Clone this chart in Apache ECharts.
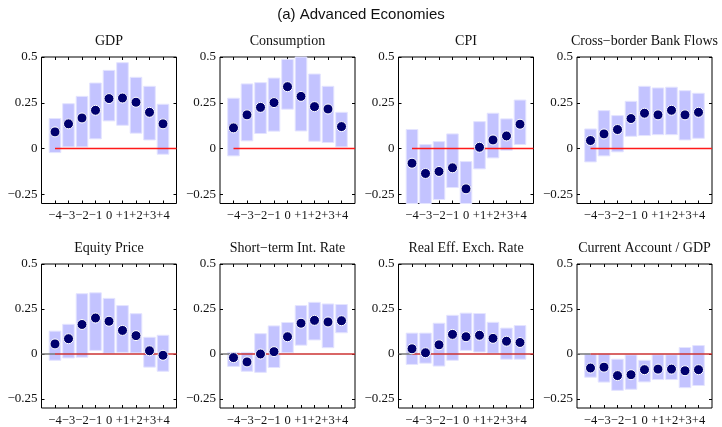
<!DOCTYPE html>
<html>
<head>
<meta charset="utf-8">
<script src="https://cdn.jsdelivr.net/npm/echarts@6/dist/echarts.min.js"></script>
<style>
html,body{margin:0;padding:0;background:#fff;}
#chart{width:722px;height:427px;}
</style>
</head>
<body>
<div id="chart"></div>
<script>
// ---- data ----
const mainTitle = '(a) Advanced Economies';
const lags = [-4, -3, -2, -1, 0, 1, 2, 3, 4];
const lagLabels = ['−4', '−3', '−2', '−1', '0', '+1', '+2', '+3', '+4'];
const yTickValues = [-0.25, 0, 0.25, 0.5];
const yTickLabels = ['−0.25', '0', '0.25', '0.5'];
const panelTitles = ['GDP', 'Consumption', 'CPI', 'Cross−border Bank Flows',
  'Equity Price', 'Short−term Int. Rate', 'Real Eff. Exch. Rate', 'Current Account / GDP'];

const gdpEst = [0.091, 0.135, 0.167, 0.209, 0.273, 0.276, 0.253, 0.198, 0.135];
const gdpLo  = [-0.022, 0.009, 0.009, 0.053, 0.151, 0.127, 0.084, 0.047, -0.031];
const gdpHi  = [0.164, 0.245, 0.285, 0.358, 0.427, 0.469, 0.389, 0.340, 0.242];

const conEst = [0.113, 0.184, 0.225, 0.251, 0.338, 0.285, 0.229, 0.216, 0.120];
const conLo  = [-0.040, 0.042, 0.082, 0.095, 0.215, 0.096, 0.040, 0.033, 0.009];
const conHi  = [0.275, 0.353, 0.360, 0.385, 0.487, 0.520, 0.407, 0.340, 0.198];

const cpiEst = [-0.080, -0.136, -0.125, -0.105, -0.220, 0.007, 0.047, 0.069, 0.133];
const cpiLo  = [-0.330, -0.330, -0.278, -0.213, -0.340, -0.111, -0.051, -0.009, 0.022];
const cpiHi  = [0.104, 0.022, 0.038, 0.080, -0.071, 0.147, 0.193, 0.162, 0.265];

const cbfEst = [0.044, 0.080, 0.104, 0.164, 0.193, 0.184, 0.209, 0.184, 0.198];
const cbfLo  = [-0.073, -0.040, -0.018, 0.067, 0.071, 0.076, 0.076, 0.047, 0.056];
const cbfHi  = [0.107, 0.207, 0.180, 0.258, 0.340, 0.331, 0.335, 0.316, 0.302];

const eqEst = [0.056, 0.085, 0.164, 0.200, 0.182, 0.131, 0.102, 0.018, -0.007];
const eqLo  = [-0.035, -0.022, -0.018, 0.020, 0.004, 0.009, 0.006, -0.073, -0.096];
const eqHi  = [0.127, 0.165, 0.335, 0.340, 0.309, 0.269, 0.224, 0.093, 0.104];

const strEst = [-0.020, -0.044, 0.000, 0.013, 0.096, 0.171, 0.187, 0.178, 0.185];
const strLo  = [-0.069, -0.096, -0.102, -0.075, 0.007, 0.049, 0.078, 0.035, 0.118];
const strHi  = [0.009, 0.009, 0.113, 0.156, 0.175, 0.269, 0.287, 0.278, 0.275];

const reerEst = [0.029, 0.007, 0.051, 0.109, 0.096, 0.104, 0.087, 0.071, 0.064];
const reerLo  = [-0.058, -0.051, -0.067, -0.035, 0.020, 0.011, 0.004, -0.029, -0.029];
const reerHi  = [0.116, 0.116, 0.171, 0.215, 0.227, 0.225, 0.176, 0.144, 0.158];

const caEst = [-0.078, -0.073, -0.120, -0.115, -0.087, -0.084, -0.084, -0.093, -0.087];
const caLo  = [-0.129, -0.156, -0.202, -0.196, -0.155, -0.142, -0.142, -0.187, -0.175];
const caHi  = [0.000, 0.000, -0.029, -0.005, -0.035, -0.004, -0.004, 0.036, 0.047];

const panels = [
  [gdpEst, gdpLo, gdpHi], [conEst, conLo, conHi], [cpiEst, cpiLo, cpiHi], [cbfEst, cbfLo, cbfHi],
  [eqEst, eqLo, eqHi], [strEst, strLo, strHi], [reerEst, reerLo, reerHi], [caEst, caLo, caHi]
];

// ---- layout / style ----
const lefts = [41.5, 220, 398.5, 577];
const gridW = 135;
const tops = [57, 264];
const gridH = 146.5;
const serif = '"Liberation Serif", "DejaVu Serif", serif';
const barColor = '#c3c3ff';
const dotColor = '#00006e';

const grids = [], xAxes = [], yAxes = [], series = [], graphics = [];
graphics.push({type:'text', x:361, y:15, style:{text:mainTitle, font:'15px "Liberation Sans", Arial, sans-serif', fill:'#111', align:'center', verticalAlign:'middle'}});

const tickStyle = {color:'#000', width:1};
panels.forEach((p, i) => {
  const row = Math.floor(i / 4), col = i % 4;
  const left = lefts[col], top = tops[row];
  grids.push({left: left, top: top, width: gridW, height: gridH, show: true, borderColor: '#000', borderWidth: 1, backgroundColor: 'transparent'});
  graphics.push({type:'text', x: left + gridW/2, y: top - 16, style:{text: panelTitles[i], font:'14px ' + serif, fill:'#111', align:'center', verticalAlign:'middle'}});
  // bottom x axis: ticks + labels (labels drawn through a lag-specific category-free formatter)
  xAxes.push({type:'value', gridIndex:i, min:-5, max:5, position:'bottom',
    axisLine:{show:false, onZero:false}, splitLine:{show:false},
    axisTick:{show:true, inside:true, length:3, customValues: lags, lineStyle: tickStyle},
    axisLabel:{show:true, customValues: lags, margin:6, fontSize:12.5, fontFamily: serif, color:'#111',
      showMinLabel:true, showMaxLabel:true, hideOverlap:false,
      formatter: v => { const k = lags.indexOf(Math.round(v)); return k >= 0 ? lagLabels[k] : ''; }}
  });
  xAxes.push({type:'value', gridIndex:i, min:-5, max:5, position:'top',
    axisLine:{show:false, onZero:false}, splitLine:{show:false}, axisLabel:{show:false},
    axisTick:{show:true, inside:true, length:3, customValues: lags, lineStyle: tickStyle}
  });
  yAxes.push({type:'value', gridIndex:i, min:-0.3, max:0.5, position:'left',
    axisLine:{show:false, onZero:false}, splitLine:{show:false},
    axisTick:{show:true, inside:true, length:3, customValues: yTickValues, lineStyle: tickStyle},
    axisLabel:{show:true, customValues: yTickValues, margin:4, fontSize:13, fontFamily: serif, color:'#111',
      showMinLabel:true, showMaxLabel:true,
      formatter: v => { const k = yTickValues.findIndex(t => Math.abs(t - v) < 1e-6); return k >= 0 ? yTickLabels[k] : ''; }}
  });
  yAxes.push({type:'value', gridIndex:i, min:-0.3, max:0.5, position:'right',
    axisLine:{show:false, onZero:false}, splitLine:{show:false}, axisLabel:{show:false},
    axisTick:{show:true, inside:true, length:3, customValues: yTickValues, lineStyle: tickStyle}
  });
  const xi = i * 2, yi = i * 2;
  const [est, lo, hi] = p;
  series.push({type:'custom', xAxisIndex: xi, yAxisIndex: yi, z: 1,
    data: lags.map((x, k) => [x, lo[k], hi[k]]),
    renderItem: (params, api) => {
      const x = api.value(0), l = api.value(1), h = api.value(2);
      const p1 = api.coord([x - 0.43, h]);
      const p2 = api.coord([x + 0.43, l]);
      const rect = echarts.graphic.clipRectByRect(
        {x: p1[0], y: p1[1], width: p2[0] - p1[0], height: p2[1] - p1[1]},
        {x: params.coordSys.x, y: params.coordSys.y, width: params.coordSys.width, height: params.coordSys.height});
      return rect && {type:'rect', shape: rect, style:{fill: barColor, stroke:'#e4e4ff', lineWidth:1}};
    },
    silent: true, animation: false
  });
  if (row === 1) {
    series.push({type:'line', xAxisIndex: xi, yAxisIndex: yi, z: 2, data: [[-5, 0], [-4, 0]], symbol:'none',
      lineStyle:{color:'#777', width:1.5}, silent:true, animation:false});
  }
  series.push({type:'line', xAxisIndex: xi, yAxisIndex: yi, z: 2, data: [[-4, 0], [5, 0]], symbol:'none',
    lineStyle:{color: row === 1 ? '#cc3333' : '#ff1a1a', width:1.5}, silent:true, animation:false});
  series.push({type:'scatter', xAxisIndex: xi, yAxisIndex: yi, z: 3,
    data: lags.map((x, k) => [x, est[k]]), symbol:'circle', symbolSize: 10,
    itemStyle:{color: dotColor, borderColor:'#fff', borderWidth:1, opacity:1}, silent:true, animation:false});
});

const chart = echarts.init(document.getElementById('chart'), null, {renderer:'canvas'});
chart.setOption({
  animation: false,
  backgroundColor: '#fff',
  grid: grids, xAxis: xAxes, yAxis: yAxes, series: series, graphic: graphics
});
</script>
</body>
</html>
